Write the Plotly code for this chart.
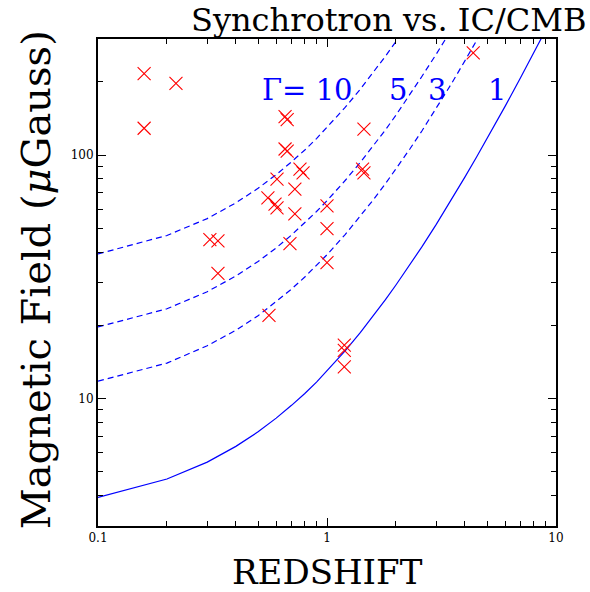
import plotly.graph_objects as go

# Redshift grid for the equipartition curves
z_grid = [0.1, 0.2, 0.3, 0.4, 0.5, 0.6, 0.7, 0.8, 0.9, 1.0, 1.2, 1.4, 1.6, 1.8,
          2.0, 2.3, 2.6, 3.0, 3.5, 4.0, 4.5, 5.0, 6.0, 7.0, 8.0, 9.0, 10.0]

# Field (microGauss) where synchrotron equals IC/CMB, for each bulk Lorentz factor
b_gamma1 = [3.93, 4.68, 5.49, 6.37, 7.31, 8.32, 9.39, 10.5, 11.7, 13.0, 15.7, 18.7,
            22.0, 25.5, 29.3, 35.4, 42.1, 52.0, 65.8, 81.3, 98.3, 117, 159, 208,
            263, 325, 393]
b_gamma3 = [11.8, 14.0, 16.5, 19.1, 21.9, 25.0, 28.2, 31.6, 35.2, 39.0, 47.2, 56.2,
            65.9, 76.4, 87.8, 106, 126, 156, 197, 244, 295, 351]
b_gamma5 = [19.7, 23.4, 27.5, 31.9, 36.6, 41.6, 47.0, 52.7, 58.7, 65.0, 78.7, 93.6,
            110, 127, 146, 177, 211, 260, 329]
b_gamma10 = [39.3, 46.8, 54.9, 63.7, 73.1, 83.2, 93.9, 105, 117, 130, 157, 187,
             220, 255, 293, 354]

# Jet knots: redshift and equipartition field
src_z = [0.159, 0.219, 0.159, 0.308, 0.334, 0.334, 0.656, 0.670, 0.656, 0.670,
         0.762, 0.786, 0.605, 0.724, 0.552, 0.593, 0.605, 0.724, 1.0, 1.0,
         0.689, 1.0, 4.35, 1.45, 1.45, 1.43, 0.558, 1.19, 1.19, 1.19]
src_b = [216, 197, 129, 45, 44.5, 32.7, 144, 140, 106, 104,
         87.7, 84.5, 79.8, 72.6, 66.8, 63, 60.8, 57.4, 61.9, 49.9,
         43.3, 36.2, 263, 128, 84.5, 87.7, 22, 16.6, 15.8, 13.5]

gamma_labels = ["Γ= 10", "5", "3", "1"]

# Axis ticks
x_major = [0.1, 1, 10]
x_major_text = ["0.1", "1", "10"]
x_minor = [0.2, 0.3, 0.4, 0.5, 0.6, 0.7, 0.8, 0.9, 2, 3, 4, 5, 6, 7, 8, 9]
y_major = [10, 100]
y_major_text = ["10", "100"]
y_minor = [4, 5, 6, 7, 8, 9, 20, 30, 40, 50, 60, 70, 80, 90, 200, 300]

BLUE = "#0000ff"
RED = "#ff0000"
SERIF = "DejaVu Serif"

fig = go.Figure()
for b, dash in [(b_gamma1, "solid"), (b_gamma3, "6px,4px"),
                (b_gamma5, "6px,4px"), (b_gamma10, "6px,4px")]:
    fig.add_trace(go.Scatter(x=z_grid[:len(b)], y=b, mode="lines",
                             line=dict(color=BLUE, width=1.2, dash=dash),
                             showlegend=False, hoverinfo="skip"))

fig.add_trace(go.Scatter(x=src_z, y=src_b, mode="markers",
                         marker=dict(symbol="x-thin-open", size=13, color=RED,
                                     line=dict(color=RED, width=1.1)),
                         showlegend=False))

axis_common = dict(
    type="log", showgrid=False, zeroline=False,
    showline=True, linecolor="black", linewidth=2, mirror="allticks",
    ticks="inside", ticklen=8, tickwidth=1.3, tickcolor="black",
    tickfont=dict(family=SERIF, size=12, color="black"),
)
minor_common = dict(ticks="inside", ticklen=5, tickwidth=1.1, tickcolor="black",
                    showgrid=False)

fig.update_xaxes(range=[-1, 1], tickvals=x_major, ticktext=x_major_text,
                 minor=dict(tickvals=x_minor, **minor_common), **axis_common)
fig.update_yaxes(range=[0.4771, 2.4771], tickvals=y_major, ticktext=y_major_text,
                 minor=dict(tickvals=y_minor, **minor_common), **axis_common)

annotations = [
    dict(text="Synchrotron vs. IC/CMB", x=1.070, y=1.039, xanchor="right",
         yanchor="middle", font=dict(family=SERIF, size=32, color="black")),
    dict(text="REDSHIFT", x=0.5, y=-0.094, xanchor="center", yanchor="middle",
         font=dict(family=SERIF, size=34, color="black")),
    dict(text="Magnetic Field (<i>μ</i>Gauss)", x=-0.135, y=0.505, textangle=-90,
         xanchor="center", yanchor="middle",
         font=dict(family=SERIF, size=40, color="black")),
]
label_pos = [(0.354, "left"), (0.655, "center"), (0.740, "center"), (0.871, "center")]
for txt, (px, anchor) in zip(gamma_labels, label_pos):
    annotations.append(dict(text=txt, x=px, y=0.895, xanchor=anchor, yanchor="middle",
                            font=dict(family=SERIF, size=29, color=BLUE)))
for a in annotations:
    a.update(xref="paper", yref="paper", showarrow=False)

fig.update_layout(
    width=590, height=592,
    margin=dict(l=98, r=34, t=39, b=66),
    paper_bgcolor="white", plot_bgcolor="white",
    annotations=annotations,
)

fig.write_html("out.html")
